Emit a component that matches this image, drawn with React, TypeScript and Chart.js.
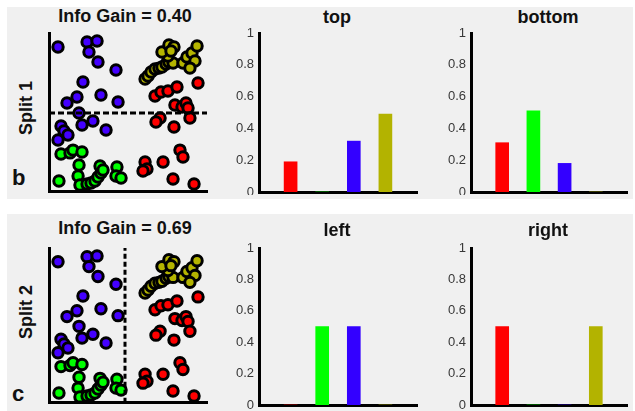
import React, { useEffect, useRef } from 'react';
import { Chart, registerables } from 'chart.js';
Chart.register(...registerables);

const FONT = '"Liberation Sans", Arial, Helvetica, sans-serif';

// ---- data ----
const classNames = ['red', 'green', 'blue', 'olive'];
const classPositions = [1, 2, 3, 4];
const barColors = ['#ff0000', '#00ff00', '#3300ff', '#b3b300'];
const topHist = [0.19, 0, 0.32, 0.49];
const bottomHist = [0.31, 0.51, 0.18, 0];
const leftHist = [0, 0.5, 0.5, 0];
const rightHist = [0.5, 0, 0, 0.5];
const yTickLabels = ['0', '0.2', '0.4', '0.6', '0.8', '1'];

const bluePts: [number, number][] = [
  [5.7, 91.1], [24.1, 94.3], [30.4, 94.9], [25.3, 88.0], [31.0, 81.6], [42.4, 76.6],
  [21.5, 69.0], [32.9, 60.8], [17.7, 59.5], [11.4, 55.7], [43.7, 56.3], [19.0, 49.4],
  [27.8, 44.3], [20.9, 41.8], [36.1, 38.6], [7.6, 41.1], [9.5, 38.0], [12.0, 35.4], [5.7, 32.3],
];
const greenPts: [number, number][] = [
  [7.6, 23.4], [13.3, 24.1], [15.2, 25.9], [20.9, 24.7], [19.0, 16.5], [18.4, 9.5],
  [19.6, 3.8], [6.3, 6.3], [24.1, 4.4], [26.6, 5.1], [29.1, 6.3], [31.0, 8.9],
  [32.9, 11.4], [32.3, 15.8], [34.2, 13.3], [43.0, 15.2], [42.4, 9.5], [45.6, 8.2],
];
const olivePts: [number, number][] = [
  [60.8, 70.9], [62.7, 72.8], [64.6, 75.3], [67.1, 77.2], [69.6, 77.8], [71.5, 78.5],
  [74.1, 80.4], [75.9, 81.6], [78.5, 81.0], [75.3, 85.4], [71.5, 88.0], [75.9, 92.4],
  [79.1, 91.1], [77.2, 88.6], [84.8, 81.0], [87.3, 84.8], [90.5, 87.3], [93.7, 91.8],
  [92.4, 82.3], [89.2, 77.8],
];
const redPts: [number, number][] = [
  [67.1, 60.1], [70.9, 62.7], [75.3, 63.3], [81.0, 65.8], [94.3, 68.4], [79.7, 54.4],
  [84.2, 53.2], [86.7, 55.7], [88.0, 52.5], [70.3, 46.2], [67.7, 43.7], [79.1, 40.5],
  [89.2, 46.2], [82.9, 25.9], [84.8, 21.5], [60.8, 18.4], [72.2, 18.4], [62.0, 13.9],
  [59.5, 12.7], [78.5, 7.6], [91.8, 4.4],
];
const scatterColors = { blue: '#4400ff', green: '#00ff00', olive: '#b4b400', red: '#ff0000' };
const split1Y = 49.4; // horizontal split (Split 1)
const split2X = 48.1; // vertical split (Split 2)

// ---- helpers ----
const axisBorder = { display: true, color: '#000', width: 3 };

function ChartBox({ box, canvasW, canvasH, makeConfig }: any) {
  const ref = useRef<HTMLCanvasElement | null>(null);
  useEffect(() => {
    if (!ref.current) return;
    const chart = new Chart(ref.current, makeConfig());
    return () => chart.destroy();
  }, []);
  return (
    <div style={{ position: 'absolute', left: box.left, top: box.top, width: box.width, height: box.height, overflow: 'hidden' }}>
      <canvas ref={ref} width={canvasW} height={canvasH} style={{ width: canvasW, height: canvasH, display: 'block' }} />
    </div>
  );
}

function scatterConfig(pad: any, split: 'h' | 'v') {
  const pts = (arr: [number, number][]) => arr.map(([x, y]) => ({ x, y }));
  const mk = (arr: [number, number][], color: string) => ({
    type: 'scatter' as const,
    data: pts(arr),
    backgroundColor: color,
    borderColor: '#000',
    borderWidth: 3,
    pointRadius: 5.2,
    clip: false as any,
  });
  const splitLine = split === 'h'
    ? [{ x: 0, y: split1Y }, { x: 100, y: split1Y }]
    : [{ x: split2X, y: 0 }, { x: split2X, y: 100 }];
  return {
    type: 'scatter' as const,
    data: {
      datasets: [
        {
          type: 'line' as const,
          data: splitLine,
          borderColor: '#000',
          borderWidth: 3,
          borderDash: split === 'h' ? [6, 3] : [5, 3],
          pointRadius: 0,
          fill: false,
          clip: false as any,
        },
        mk(bluePts, scatterColors.blue),
        mk(greenPts, scatterColors.green),
        mk(olivePts, scatterColors.olive),
        mk(redPts, scatterColors.red),
      ],
    },
    options: {
      animation: false as const,
      responsive: false,
      layout: { padding: pad },
      plugins: { legend: { display: false }, tooltip: { enabled: false } },
      scales: {
        x: { type: 'linear' as const, min: 0, max: 100, ticks: { display: false }, grid: { display: false, drawTicks: false }, border: axisBorder },
        y: { type: 'linear' as const, min: 0, max: 100, ticks: { display: false }, grid: { display: false, drawTicks: false }, border: axisBorder },
      },
    },
  };
}

function barConfig(values: number[], pad: any) {
  return {
    type: 'bar' as const,
    data: {
      datasets: [
        {
          data: classPositions.map((x, i) => ({ x, y: values[i] })),
          backgroundColor: barColors,
          borderWidth: 0,
          barThickness: 13,
          label: 'share',
        },
      ],
    },
    options: {
      animation: false as const,
      responsive: false,
      layout: { padding: pad },
      plugins: { legend: { display: false }, tooltip: { enabled: false } },
      scales: {
        x: { type: 'linear' as const, min: 0, max: 5, offset: false, ticks: { display: false }, grid: { display: false, drawTicks: false }, border: axisBorder },
        y: {
          type: 'linear' as const,
          min: 0,
          max: 1,
          afterFit: (s: any) => { s.width = 30; },
          ticks: {
            stepSize: 0.2,
            padding: 5,
            color: '#383838',
            font: { family: FONT, size: 13 },
            callback: (_v: any, i: number) => yTickLabels[i],
          },
          grid: { display: false, drawTicks: false },
          border: axisBorder,
        },
      },
    },
  };
}

function Text({ cx, top, size, children, bold = true }: any) {
  return (
    <div style={{ position: 'absolute', left: cx - 100, top, width: 200, textAlign: 'center', fontFamily: FONT, fontWeight: bold ? 700 : 400, fontSize: size, lineHeight: 1, color: '#111', whiteSpace: 'nowrap' }}>
      {children}
    </div>
  );
}

function VText({ cx, cy, size, children }: any) {
  return (
    <div style={{ position: 'absolute', left: cx - 50, top: cy - size / 2, width: 100, height: size, textAlign: 'center', fontFamily: FONT, fontWeight: 700, fontSize: size, lineHeight: 1, color: '#111', transform: 'rotate(-90deg)', whiteSpace: 'nowrap' }}>
      {children}
    </div>
  );
}

export default function App() {
  return (
    <div style={{ position: 'fixed', left: 0, top: 0, width: 635, height: 411, overflow: 'hidden', background: '#fff' }}>
      <div style={{ position: 'absolute', left: 7, top: 7, width: 626, height: 192, background: '#f0f0f0' }} />
      <div style={{ position: 'absolute', left: 7, top: 214, width: 626, height: 197, background: '#f0f0f0' }} />

      {/* Row 1 */}
      <Text cx={125} top={7} size={18}>Info Gain = 0.40</Text>
      <VText cx={26} cy={108} size={18}>Split 1</VText>
      <div style={{ position: 'absolute', left: 12, top: 167, fontFamily: FONT, fontWeight: 700, fontSize: 22, lineHeight: 1, color: '#111' }}>b</div>
      <ChartBox box={{ left: 20, top: 20, width: 200, height: 185 }} canvasW={200} canvasH={185}
        makeConfig={() => scatterConfig({ left: 29, top: 13, right: 13, bottom: 14 }, 'h')} />
      <Text cx={337} top={8} size={18}>top</Text>
      <ChartBox box={{ left: 215, top: 10, width: 215, height: 185 }} canvasW={215} canvasH={200}
        makeConfig={() => barConfig(topHist, { left: 14, top: 23, right: 13, bottom: 18 })} />
      <Text cx={548} top={8} size={18}>bottom</Text>
      <ChartBox box={{ left: 427, top: 10, width: 208, height: 185 }} canvasW={208} canvasH={200}
        makeConfig={() => barConfig(bottomHist, { left: 14, top: 23, right: 8, bottom: 18 })} />

      {/* Row 2 */}
      <Text cx={125} top={219} size={18}>Info Gain = 0.69</Text>
      <VText cx={26} cy={312} size={18}>Split 2</VText>
      <div style={{ position: 'absolute', left: 12, top: 383, fontFamily: FONT, fontWeight: 700, fontSize: 22, lineHeight: 1, color: '#111' }}>c</div>
      <ChartBox box={{ left: 20, top: 235, width: 200, height: 176 }} canvasW={200} canvasH={176}
        makeConfig={() => scatterConfig({ left: 29, top: 13, right: 13, bottom: 6 }, 'v')} />
      <Text cx={337} top={221} size={18}>left</Text>
      <ChartBox box={{ left: 215, top: 225, width: 215, height: 184 }} canvasW={215} canvasH={200}
        makeConfig={() => barConfig(leftHist, { left: 14, top: 23, right: 13, bottom: 20 })} />
      <Text cx={548} top={221} size={18}>right</Text>
      <ChartBox box={{ left: 427, top: 225, width: 208, height: 184 }} canvasW={208} canvasH={200}
        makeConfig={() => barConfig(rightHist, { left: 14, top: 23, right: 8, bottom: 20 })} />
    </div>
  );
}
